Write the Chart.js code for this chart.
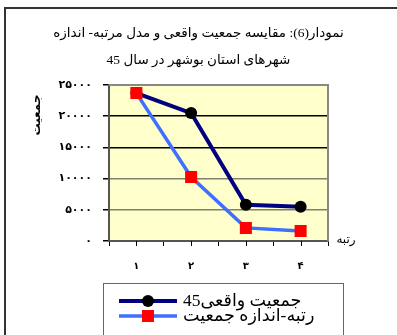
<!DOCTYPE html>
<html>
<head>
<meta charset="utf-8">
<script src="https://cdn.jsdelivr.net/npm/chart.js@4"></script>
<style>
  html, body { margin: 0; padding: 0; background: #fff; }
  #wrap { width: 397px; height: 335px; }
</style>
</head>
<body>
<div id="wrap"><canvas id="myChart" width="397" height="335"></canvas></div>
<script>
// data
const ranks = ['۱', '۲', '۳', '۴'];
const actualPop = [23700, 20500, 5800, 5500];
const rankSizePop = [23700, 10250, 2100, 1600];
const yTicks = [0, 5000, 10000, 15000, 20000, 25000];
const seriesNames = ['جمعیت واقعی45', 'رتبه-اندازه جمعیت'];
const titleLines = ['نمودار(6): مقایسه جمعیت واقعی و مدل مرتبه- اندازه', 'شهرهای استان بوشهر در سال 45'];
const yTitle = 'جمعیت';
const xTitle = 'رتبه';
const faDigits = ['۰', '۱', '۲', '۳', '۴', '۵', '۶', '۷', '۸', '۹'];

const toFa = (v) => String(v).replace(/\d/g, d => faDigits[d]);
const arabicFont = '"Liberation Serif", "DejaVu Sans", sans-serif';

// frame, plot background, axis titles, legend and extra ticks
const decor = {
    id: 'decor',
    beforeDraw(chart) {
        const c = chart.ctx, a = chart.chartArea;
        c.save();
        c.strokeStyle = '#333';
        c.lineWidth = 2;
        c.beginPath();
        c.moveTo(5, 340);
        c.lineTo(5, 8);
        c.lineTo(400, 8);
        c.stroke();
        c.fillStyle = '#ffffcc';
        c.fillRect(a.left, a.top, a.right - a.left, a.bottom - a.top);
        c.restore();
    },
    beforeDatasetsDraw(chart) {
        const c = chart.ctx, a = chart.chartArea;
        const x = chart.scales.x;
        c.save();
        c.strokeStyle = '#888';
        c.lineWidth = 2;
        c.beginPath();
        c.moveTo(a.left, a.top);
        c.lineTo(a.right, a.top);
        c.lineTo(a.right, a.bottom);
        c.stroke();
        // ticks at category centres
        c.strokeStyle = '#000';
        c.lineWidth = 1;
        ranks.forEach((r, i) => {
            const px = Math.round(x.getPixelForValue(i)) + 0.5;
            c.beginPath();
            c.moveTo(px, a.bottom);
            c.lineTo(px, a.bottom + 5);
            c.stroke();
        });
        c.restore();
    },
    afterDraw(chart) {
        const c = chart.ctx, a = chart.chartArea;
        c.save();
        c.fillStyle = '#000';
        c.direction = 'rtl';
        // y title
        c.font = 'bold 12px ' + arabicFont;
        c.translate(37, 115);
        c.rotate(-Math.PI / 2);
        c.textAlign = 'center';
        c.textBaseline = 'middle';
        c.fillText(yTitle, 0, 0);
        c.setTransform(1, 0, 0, 1, 0, 0);
        // x title beside axis end
        c.font = '12px ' + arabicFont;
        c.fillText(xTitle, a.right + 18, a.bottom - 1);
        // legend
        c.strokeStyle = '#666';
        c.lineWidth = 1;
        c.strokeRect(103.5, 283.5, 240, 60);
        const rows = [301, 316];
        chart.data.datasets.slice().sort((p, q) => p.legendIndex - q.legendIndex).forEach((ds, i) => {
            const y = rows[i];
            c.strokeStyle = ds.borderColor;
            c.lineWidth = ds.borderWidth;
            c.beginPath();
            c.moveTo(119, y);
            c.lineTo(177, y);
            c.stroke();
            c.fillStyle = ds.pointBackgroundColor;
            if (ds.pointStyle === 'rect') {
                c.fillRect(142, y - 6, 12, 12);
            } else {
                c.beginPath();
                c.arc(148, y, 6, 0, Math.PI * 2);
                c.fill();
            }
            c.fillStyle = '#000';
            c.font = '17.5px ' + arabicFont;
            c.direction = 'rtl';
            c.textAlign = 'left';
            c.textBaseline = 'middle';
            c.fillText(ds.label, 183, y);
        });
        c.restore();
    }
};

new Chart(document.getElementById('myChart'), {
    type: 'line',
    data: {
        labels: ranks,
        datasets: [{
            label: seriesNames[0],
            legendIndex: 0,
            data: actualPop,
            borderColor: '#000080',
            borderWidth: 4,
            pointStyle: 'circle',
            pointRadius: 6,
            pointBackgroundColor: '#000',
            pointBorderWidth: 0,
            order: 1
        }, {
            label: seriesNames[1],
            legendIndex: 1,
            data: rankSizePop,
            borderColor: '#3f6fff',
            borderWidth: 3.5,
            pointStyle: 'rect',
            pointRadius: 8.5,
            pointBackgroundColor: '#ff0000',
            pointBorderWidth: 0,
            order: 0
        }]
    },
    options: {
        responsive: false,
        animation: false,
        layout: { padding: 0 },
        scales: {
            x: {
                offset: true,
                border: { color: '#555', width: 2 },
                grid: { offset: true, drawOnChartArea: false, tickLength: 5, tickColor: '#000' },
                ticks: { color: '#000', padding: 14, font: { family: 'DejaVu Sans', weight: 'bold', size: 10 } },
                afterFit: (s) => { s.height = 94; }
            },
            y: {
                min: 0,
                max: 25000,
                afterBuildTicks: (s) => { s.ticks = yTicks.map(v => ({ value: v })); },
                border: { color: '#555', width: 2 },
                grid: {
                    tickLength: 6,
                    tickColor: '#000',
                    color: (ctx) => (ctx.tick && (ctx.tick.value === 15000 || ctx.tick.value === 20000)) ? '#000' : '#808070',
                    lineWidth: 1.5
                },
                ticks: {
                    color: '#000',
                    padding: 11,
                    font: { family: 'DejaVu Sans', weight: 'bold', size: 11 },
                    callback: (v) => toFa(v)
                },
                afterFit: (s) => { s.width = 109; }
            },
            // empty space right of the plot (x title sits there)
            yRight: {
                position: 'right',
                border: { display: false },
                grid: { display: false },
                ticks: { display: false },
                afterFit: (s) => { s.width = 69; }
            }
        },
        plugins: {
            legend: { display: false },
            tooltip: { enabled: false },
            title: {
                display: true,
                text: titleLines,
                color: '#000',
                font: { family: arabicFont, size: 13.5, weight: 'normal', lineHeight: '27px' },
                padding: { top: 19.5, bottom: 11.5 }
            }
        }
    },
    plugins: [decor]
});
</script>
</body>
</html>
